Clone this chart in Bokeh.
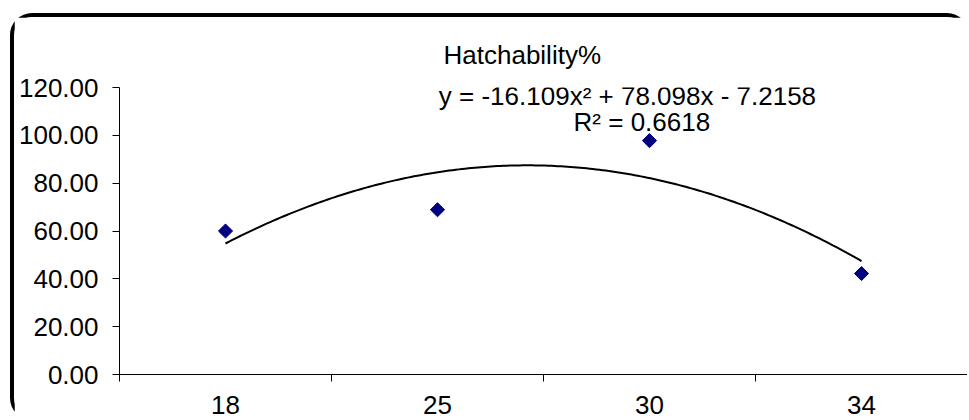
import numpy as np
from bokeh.plotting import figure
from bokeh.models import Range1d, FixedTicker, PrintfTickFormatter, Label, ColumnDataSource
from bokeh.embed import file_html
from bokeh.resources import INLINE

# ---- data ----
categories = ["18", "25", "30", "34"]
hatchability = [60.00, 68.89, 97.78, 42.22]
y_ticks = [0, 20, 40, 60, 80, 100, 120]
title_text = "Hatchability%"
equation_text = "y = -16.109x\u00b2 + 78.098x - 7.2158"
r2_text = "R\u00b2 = 0.6618"

FONT = "Liberation Sans"
FS = "26px"

x_pos = list(range(1, len(categories) + 1))
src = ColumnDataSource(dict(x=x_pos, y=hatchability, cat=categories))

# polynomial (order 2) trendline fitted to the data, drawn from first to last category
coef = np.polyfit(x_pos, hatchability, 2)
xs = np.linspace(x_pos[0], x_pos[-1], 200)
trend = ColumnDataSource(dict(x=xs, y=np.polyval(coef, xs)))

p = figure(width=959, height=407,
           title=title_text,
           x_range=Range1d(0.5, len(categories) + 0.5),
           y_range=Range1d(y_ticks[0], y_ticks[-1]),
           output_backend="svg", toolbar_location=None,
           min_border_left=105, min_border_right=6,
           min_border_top=70, min_border_bottom=50)
p.styles = {
    "margin-left": "10px",
    "margin-top": "13px",
    "border-top": "4px solid black",
    "border-left": "4px solid black",
    "border-right": "2px solid transparent",
    "border-bottom": "2px solid transparent",
    "border-radius": "22px",
    "background": "white",
}
p.background_fill_color = "white"
p.border_fill_color = "white"
p.outline_line_color = None
p.xgrid.visible = False
p.ygrid.visible = False

# title: placed in the band above the plot area
p.title.text_font = FONT
p.title.text_font_size = FS
p.title.text_font_style = "normal"
p.title.text_color = "black"
p.title.align = "left"
p.title.offset = 324
p.title.standoff = 36

# trendline
p.line("x", "y", source=trend, line_color="black", line_width=2)
# points
p.scatter("x", "y", source=src, marker="square", angle=np.pi / 4, size=10,
          fill_color="#000080", line_color="#000080")

# y axis
ya = p.yaxis[0]
ya.ticker = FixedTicker(ticks=y_ticks)
ya.formatter = PrintfTickFormatter(format="%.2f")
ya.major_label_text_font = FONT
ya.major_label_text_font_size = FS
ya.major_label_text_color = "black"
ya.major_tick_out = 7
ya.major_tick_in = 0
ya.minor_tick_line_color = None
ya.axis_line_color = "black"
ya.major_tick_line_color = "black"
ya.major_label_standoff = 14

# x axis: labels at category centres, tick marks between categories
xa = p.xaxis[0]
xa.ticker = FixedTicker(ticks=x_pos,
                        minor_ticks=[i + 0.5 for i in range(len(categories) + 1)])
xa.major_label_overrides = {x: c for x, c in zip(x_pos, categories)}
xa.major_label_text_font = FONT
xa.major_label_text_font_size = FS
xa.major_label_text_color = "black"
xa.major_tick_line_color = None
xa.major_tick_out = 0
xa.major_tick_in = 0
xa.minor_tick_line_color = "black"
xa.minor_tick_out = 7
xa.minor_tick_in = 0
xa.axis_line_color = "black"
xa.major_label_standoff = 14

# trendline label
p.add_layout(Label(x=2.896, y=116.5, text=equation_text, text_align="center",
                   text_baseline="alphabetic", text_font=FONT,
                   text_font_size=FS, text_color="black"))
p.add_layout(Label(x=2.964, y=105.6, text=r2_text, text_align="center",
                   text_baseline="alphabetic", text_font=FONT,
                   text_font_size=FS, text_color="black"))

open("out.html", "w").write(file_html(p, INLINE))
